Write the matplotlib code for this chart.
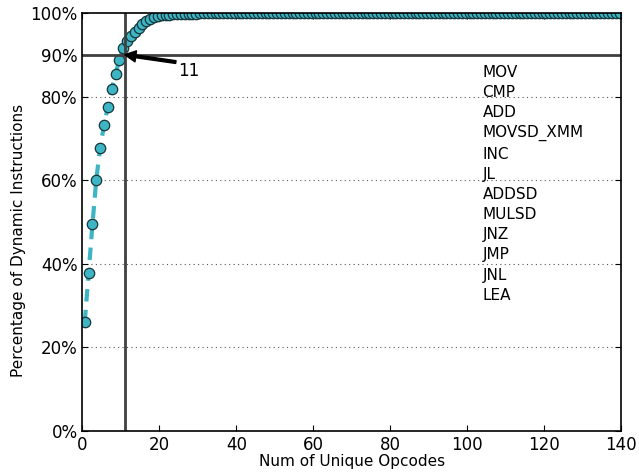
import numpy as np
import matplotlib
matplotlib.use('Agg')
import matplotlib.pyplot as plt

# cumulative share of dynamic instructions covered by the top-N opcodes
coverage = [
    26.0, 37.7, 49.4, 60.1, 67.8, 73.1, 77.6, 81.7, 85.4, 88.8,
    91.6, 93.3, 94.5, 95.5, 96.5, 97.4, 98.1, 98.6, 99.0, 99.3,
    99.45, 99.55, 99.62, 99.68, 99.72, 99.76, 99.79, 99.82, 99.84, 99.86,
] + [99.88] * 10 + [99.9] * 20 + [99.93] * 20 + [99.96] * 30 + [99.98] * 20 + [100.0] * 10
top_opcodes = ['MOV', 'CMP', 'ADD', 'MOVSD_XMM', 'INC', 'JL',
               'ADDSD', 'MULSD', 'JNZ', 'JMP', 'JNL', 'LEA']
cutoff_n = 11
cutoff_pct = 90
yticks = [0, 20, 40, 60, 80, 90, 100]

n_opcodes = np.arange(1, len(coverage) + 1) - 0.4
teal = '#3db5c4'

fig = plt.figure(figsize=(6.39, 4.74), dpi=100)
ax = fig.add_axes([0.129, 0.0907, 0.843, 0.882])

ax.plot(n_opcodes, coverage, linestyle='--', color=teal, lw=3,
        marker='o', markersize=7.5, markerfacecolor=teal,
        markeredgecolor='#17353a', markeredgewidth=0.9, dashes=(3, 2))

ax.axvline(cutoff_n, color='#404040', lw=2)
ax.axhline(cutoff_pct, color='#404040', lw=2)
for y in [20, 40, 60, 80]:
    ax.axhline(y, color='#555555', lw=0.8, linestyle=(0, (1, 3)), zorder=0)

ax.annotate(str(cutoff_n), xy=(cutoff_n, cutoff_pct), xytext=(25, 86),
            fontsize=12, va='center',
            arrowprops=dict(facecolor='black', edgecolor='black',
                            width=2, headwidth=8, headlength=8, shrink=0.0))

ax.text(104, 87.6, '\n'.join(top_opcodes), fontsize=11, va='top', ha='left',
        linespacing=1.43)

ax.set_xlim(0, 140)
ax.set_ylim(0, 100)
ax.set_yticks(yticks)
ax.set_yticklabels(['%d%%' % t for t in yticks])
ax.set_xticks(range(0, 141, 20))
ax.tick_params(direction='in', top=True, right=True, labelsize=12, length=4)
ax.set_xlabel('Num of Unique Opcodes', fontsize=11, labelpad=0)
ax.set_ylabel('Percentage of Dynamic Instructions', fontsize=11)
ax.yaxis.set_label_coords(-0.105, 0.455)
for s in ax.spines.values():
    s.set_linewidth(1.2)

fig.savefig('out.png', dpi=100)
